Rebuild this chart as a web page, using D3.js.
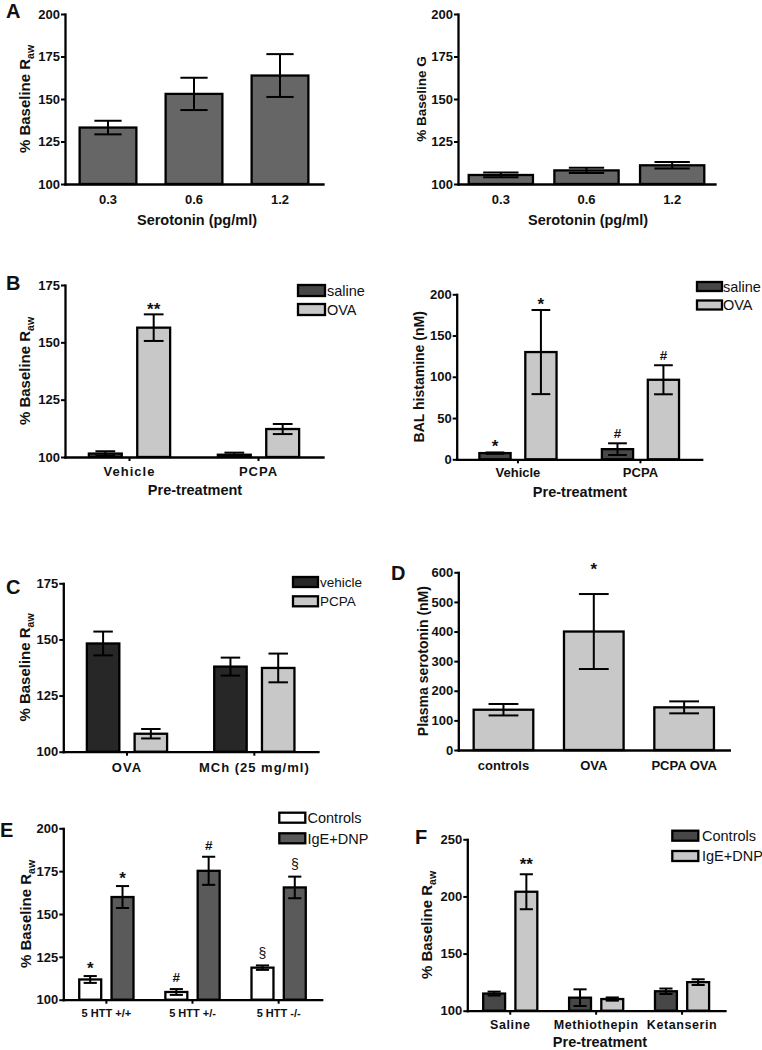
<!DOCTYPE html>
<html><head><meta charset="utf-8">
<script src="https://cdn.jsdelivr.net/npm/d3@7"></script>
<style>
body{margin:0;background:#fff}
svg{display:block}
</style>
</head><body>
<svg id="fig" width="762" height="1050"></svg>
<script>
// ---------------- DATA ----------------
// Panel A
const serotoninDoses = ["0.3", "0.6", "1.2"];
const rawA = [133.2, 153.0, 163.8];
const rawAErr = [4.0, 9.5, 12.6];
const gA = [105.3, 108.0, 111.0];
const gAErr = [1.4, 1.6, 1.9];
const ticksA = [100, 125, 150, 175, 200];

// Panel B
const pretreatB = ["Vehicle", "PCPA"];
const seriesB = ["saline", "OVA"];
const rawBSaline = [101.5, 101.0];
const rawBSalineErr = [1.0, 0.9];
const rawBOVA = [156.4, 112.2];
const rawBOVAErr = [5.8, 2.2];
const histSaline = [7.5, 12.3];
const histSalineErr = [0.8, 7.1];
const histOVA = [130.0, 96.4];
const histOVAErr = [51.0, 17.6];
const ticksBRaw = [100, 125, 150, 175];
const ticksBHist = [0, 50, 100, 150, 200];
const annotBRaw = [["Vehicle", "OVA", "**"]];
const annotBHist = [["Vehicle", "saline", "*"], ["Vehicle", "OVA", "*"], ["PCPA", "saline", "#"], ["PCPA", "OVA", "#"]];

// Panel C
const challengeC = ["OVA", "MCh (25 mg/ml)"];
const seriesC = ["vehicle", "PCPA"];
const rawCVehicle = [148.2, 137.9];
const rawCVehicleErr = [5.3, 4.0];
const rawCPCPA = [108.0, 137.3];
const rawCPCPAErr = [2.1, 6.4];
const ticksC = [100, 125, 150, 175];

// Panel D
const groupsD = ["controls", "OVA", "PCPA OVA"];
const plasma5HT = [136, 400, 144];
const plasma5HTErr = [19.3, 126.6, 20.2];
const ticksD = [0, 100, 200, 300, 400, 500, 600];
const annotD = [["OVA", "value", "*"]];

// Panel E
const genotypesE = ["5 HTT +/+", "5 HTT +/-", "5 HTT -/-"];
const seriesE = ["Controls", "IgE+DNP"];
const rawEControls = [111.8, 104.5, 118.7];
const rawEControlsErr = [2.0, 1.7, 1.3];
const rawEIgE = [159.9, 175.2, 165.5];
const rawEIgEErr = [6.4, 8.2, 6.3];
const ticksE = [100, 125, 150, 175, 200];
const annotE = [["5 HTT +/+", "Controls", "*"], ["5 HTT +/+", "IgE+DNP", "*"],
                ["5 HTT +/-", "Controls", "#"], ["5 HTT +/-", "IgE+DNP", "#"],
                ["5 HTT -/-", "Controls", "§"], ["5 HTT -/-", "IgE+DNP", "§"]];

// Panel F
const pretreatF = ["Saline", "Methiothepin", "Ketanserin"];
const seriesF = ["Controls", "IgE+DNP"];
const rawFControls = [115.0, 111.4, 117.0];
const rawFControlsErr = [1.7, 7.3, 2.4];
const rawFIgE = [204.1, 110.2, 125.0];
const rawFIgEErr = [15.3, 1.4, 2.5];
const ticksF = [100, 150, 200, 250];
const annotF = [["Saline", "IgE+DNP", "**"]];

// ---------------- DRAWING ----------------
const FONT = "'Liberation Sans', Arial, Helvetica, sans-serif";
const INK = "#111";
const svg = d3.select("#fig");

function glyphCenter(t) {
  if (t.indexOf("*") >= 0) return 0.58;
  if (t.indexOf("§") >= 0) return 0.3;
  return 0.36;
}
function annStyle(t) {
  if (t.indexOf("*") >= 0) return {fs: 17, fw: "bold"};
  if (t.indexOf("§") >= 0) return {fs: 14, fw: "normal"};
  return {fs: 13.5, fw: "bold"};
}

function rawTitle(sel) {
  sel.append("tspan").text("% Baseline R");
  sel.append("tspan").attr("font-size", "0.7em").attr("dy", "0.32em").text("aw");
}

function drawPanel(c) {
  const g = svg.append("g");
  const y = d3.scaleLinear().domain(c.domain).range([c.yBot, c.yTop]);
  const x = d3.scaleBand().domain(c.cats).range([c.x0, c.x1])
    .paddingInner(c.gp).paddingOuter(c.gp / 2);
  const names = c.series.map(s => s.name);
  const sub = d3.scaleBand().domain(names).range([0, x.bandwidth()]).paddingInner(c.sp || 0);
  const base = c.domain[0];
  const rows = [];
  c.series.forEach(s => c.cats.forEach((cat, i) =>
    rows.push({s: s, cat: cat, v: s.values[i], e: s.errors[i]})));
  const cx = d => x(d.cat) + sub(d.s.name) + sub.bandwidth() / 2;

  g.selectAll("rect.bar").data(rows).join("rect").attr("class", "bar")
    .attr("x", d => x(d.cat) + sub(d.s.name))
    .attr("width", sub.bandwidth())
    .attr("y", d => y(d.v))
    .attr("height", d => y(base) - y(d.v))
    .attr("fill", d => d.s.color)
    .attr("stroke", "#000").attr("stroke-width", 2.3);

  const cap = sub.bandwidth() * c.capFrac / 2;
  const eg = g.selectAll("g.err").data(rows).join("g").attr("class", "err")
    .attr("stroke", "#000").attr("stroke-width", 2);
  eg.append("line")
    .attr("x1", cx).attr("x2", cx)
    .attr("y1", d => y(d.v + d.e)).attr("y2", d => y(Math.max(base, d.v - d.e)));
  eg.append("line")
    .attr("x1", d => cx(d) - cap).attr("x2", d => cx(d) + cap)
    .attr("y1", d => y(d.v + d.e)).attr("y2", d => y(d.v + d.e));
  eg.filter(d => d.v - d.e > base).append("line")
    .attr("x1", d => cx(d) - cap).attr("x2", d => cx(d) + cap)
    .attr("y1", d => y(d.v - d.e)).attr("y2", d => y(d.v - d.e));

  // y axis
  const ya = g.append("g").attr("transform", `translate(${c.x0},0)`)
    .call(d3.axisLeft(y).tickValues(c.ticks).tickSize(4).tickSizeOuter(0).tickPadding(1));
  ya.select(".domain").attr("stroke", "#000").attr("stroke-width", 2.3).attr("stroke-linecap", "square");
  ya.selectAll(".tick line").attr("stroke", "#000").attr("stroke-width", 2);
  ya.selectAll("text").attr("font-family", FONT).attr("font-weight", "bold")
    .attr("font-size", c.tickFs || 13).attr("fill", INK);

  // x axis
  const xa = g.append("g").attr("transform", `translate(0,${c.yBot})`)
    .call(d3.axisBottom(x).tickSize(c.catTick ? 4 : 0).tickSizeOuter(0).tickPadding(0));
  xa.select(".domain").attr("stroke", "#000").attr("stroke-width", 2.3).attr("stroke-linecap", "square");
  xa.selectAll(".tick line").attr("stroke", "#000").attr("stroke-width", 2);
  xa.selectAll("text").attr("font-family", FONT).attr("font-weight", "bold")
    .attr("font-size", c.catFs || 13).attr("fill", INK)
    .attr("letter-spacing", c.catLs || 0)
    .attr("y", c.catLabelY - c.yBot).attr("dy", "0.36em");

  // axis titles
  if (c.xTitle) {
    g.append("text").attr("x", c.xTitleX).attr("y", c.xTitleY).attr("dy", "0.36em")
      .attr("text-anchor", "middle").attr("font-family", FONT).attr("font-weight", "bold")
      .attr("font-size", c.xTitleFs || 14.5).attr("fill", INK).text(c.xTitle);
  }
  const yt = g.append("text")
    .attr("transform", `translate(${c.yTitleX},${(c.yTop + c.yBot) / 2 + (c.yTitleDy || 0)}) rotate(-90)`)
    .attr("dy", "0.36em").attr("text-anchor", "middle").attr("font-family", FONT)
    .attr("font-weight", "bold").attr("font-size", c.yTitleFs || 14).attr("fill", INK);
  if (c.yTitle === "RAW") rawTitle(yt); else yt.text(c.yTitle);

  // panel letter
  if (c.letter) {
    g.append("text").attr("x", c.letterX).attr("y", c.letterY).attr("font-family", FONT)
      .attr("font-weight", "bold").attr("font-size", 20).attr("fill", INK).text(c.letter);
  }

  // legend
  if (c.legend) {
    const L = c.legend;
    c.series.forEach((s, i) => {
      const ly = L.y + i * L.dy;
      g.append("rect").attr("x", L.x).attr("y", ly).attr("width", L.w).attr("height", L.h)
        .attr("fill", s.color).attr("stroke", "#000").attr("stroke-width", 2.3);
      g.append("text").attr("x", L.tx).attr("y", ly + L.h / 2).attr("dy", "0.36em")
        .attr("font-family", FONT).attr("font-size", L.fs).attr("fill", INK)
        .attr("letter-spacing", L.ls || 0).text(s.name);
    });
  }

  // annotations
  (c.annot || []).forEach(a => {
    const s = c.series.find(ss => ss.name === a[1]) || c.series[0];
    const i = c.cats.indexOf(a[0]);
    const d = {s: s, cat: a[0], v: s.values[i], e: s.errors[i]};
    const st = annStyle(a[2]);
    const yc = y(d.v + d.e) - c.annGap;
    g.append("text").attr("x", cx(d)).attr("y", yc + glyphCenter(a[2]) * st.fs)
      .attr("text-anchor", "middle").attr("font-family", FONT).attr("font-weight", st.fw)
      .attr("font-size", st.fs).attr("fill", INK).text(a[2]);
  });
}

const cA = "#666666", cDark = "#474747", cLight = "#c8c8c8", cBlack = "#272727", cMid = "#5a5a5a";

drawPanel({
  x0: 65, x1: 323, yTop: 14, yBot: 184, domain: [100, 200], ticks: ticksA,
  cats: serotoninDoses, gp: 0.34, capFrac: 0.48,
  series: [{name: "A", values: rawA, errors: rawAErr, color: cA}],
  catLabelY: 199, xTitle: "Serotonin (pg/ml)", xTitleX: 197, xTitleY: 220,
  yTitle: "RAW", yTitleX: 25, yTitleFs: 15, letter: "A", letterX: 6, letterY: 17.5
});
drawPanel({
  x0: 458, x1: 715, yTop: 14, yBot: 184, domain: [100, 200], ticks: ticksA,
  cats: serotoninDoses, gp: 0.25, capFrac: 0.55,
  series: [{name: "G", values: gA, errors: gAErr, color: cA}],
  catLabelY: 199, xTitle: "Serotonin (pg/ml)", xTitleX: 588, xTitleY: 220,
  yTitle: "% Baseline G", yTitleX: 421, yTitleFs: 13.5, letter: ""
});
drawPanel({
  x0: 65, x1: 323, yTop: 285, yBot: 457, domain: [100, 175], ticks: ticksBRaw,
  cats: pretreatB, gp: 0.37, sp: 0.32, capFrac: 0.6, catTick: true, catLs: 1,
  series: [{name: "saline", values: rawBSaline, errors: rawBSalineErr, color: cDark},
           {name: "OVA", values: rawBOVA, errors: rawBOVAErr, color: cLight}],
  catLabelY: 471, xTitle: "Pre-treatment", xTitleX: 195, xTitleY: 490,
  yTitle: "RAW", yTitleX: 25, yTitleFs: 15, letter: "B", letterX: 6, letterY: 290,
  legend: {x: 298, y: 285, dy: 19, w: 27, h: 11, tx: 327, fs: 14.5},
  annot: annotBRaw, annGap: 9
});
drawPanel({
  x0: 456.7, x1: 701.7, yTop: 294.3, yBot: 459.3, domain: [0, 200], ticks: ticksBHist,
  cats: pretreatB, gp: 0.37, sp: 0.32, capFrac: 0.6, catTick: true,
  series: [{name: "saline", values: histSaline, errors: histSalineErr, color: cDark},
           {name: "OVA", values: histOVA, errors: histOVAErr, color: cLight}],
  catLabelY: 472, xTitle: "Pre-treatment", xTitleX: 580, xTitleY: 492,
  yTitle: "BAL histamine (nM)", yTitleX: 419, yTitleFs: 14, letter: "",
  legend: {x: 697, y: 282, dy: 18.5, w: 25, h: 9, tx: 723, fs: 14.5},
  annot: annotBHist, annGap: 10
});
drawPanel({
  x0: 63.3, x1: 318, yTop: 583.3, yBot: 751.7, domain: [100, 175], ticks: ticksC,
  cats: challengeC, gp: 0.37, sp: 0.32, capFrac: 0.6, catTick: true, catFs: 13, catLs: 1,
  series: [{name: "vehicle", values: rawCVehicle, errors: rawCVehicleErr, color: cBlack},
           {name: "PCPA", values: rawCPCPA, errors: rawCPCPAErr, color: cLight}],
  catLabelY: 767,
  yTitle: "RAW", yTitleX: 25, yTitleFs: 15, letter: "C", letterX: 6, letterY: 593.5,
  legend: {x: 293, y: 577, dy: 19.3, w: 25, h: 10, tx: 320, fs: 13.5}
});
drawPanel({
  x0: 458.3, x1: 729.3, yTop: 572.3, yBot: 750, domain: [0, 600], ticks: ticksD,
  cats: groupsD, gp: 0.34, capFrac: 0.5, catFs: 13,
  series: [{name: "value", values: plasma5HT, errors: plasma5HTErr, color: cLight}],
  catLabelY: 765,
  yTitle: "Plasma serotonin (nM)", yTitleX: 423, yTitleFs: 14, letter: "D", letterX: 391, letterY: 580,
  annot: annotD, annGap: 29
});
drawPanel({
  x0: 63.3, x1: 321.7, yTop: 828.3, yBot: 999.7, domain: [100, 200], ticks: ticksE,
  cats: genotypesE, gp: 0.37, sp: 0.32, capFrac: 0.6, catTick: true, catFs: 11,
  series: [{name: "Controls", values: rawEControls, errors: rawEControlsErr, color: "#ffffff"},
           {name: "IgE+DNP", values: rawEIgE, errors: rawEIgEErr, color: cMid}],
  catLabelY: 1013.5,
  yTitle: "RAW", yTitleX: 26, yTitleFs: 15, letter: "E", letterX: 0, letterY: 837,
  legend: {x: 279.3, y: 812.7, dy: 20.6, w: 26, h: 10, tx: 307.5, fs: 14.5},
  annot: annotE, annGap: 11.5
});
drawPanel({
  x0: 467.3, x1: 725, yTop: 839.3, yBot: 1010.7, domain: [100, 250], ticks: ticksF,
  cats: pretreatF, gp: 0.37, sp: 0.32, capFrac: 0.6, catTick: true, catFs: 12.5, catLs: 0.6,
  series: [{name: "Controls", values: rawFControls, errors: rawFControlsErr, color: cDark},
           {name: "IgE+DNP", values: rawFIgE, errors: rawFIgEErr, color: cLight}],
  catLabelY: 1025, xTitle: "Pre-treatment", xTitleX: 600, xTitleY: 1042,
  yTitle: "RAW", yTitleX: 427, yTitleFs: 15, letter: "F", letterX: 415, letterY: 843.5,
  legend: {x: 672.3, y: 830.7, dy: 20.3, w: 26, h: 10, tx: 702, fs: 14.5},
  annot: annotF, annGap: 14
});
</script>
</body></html>
